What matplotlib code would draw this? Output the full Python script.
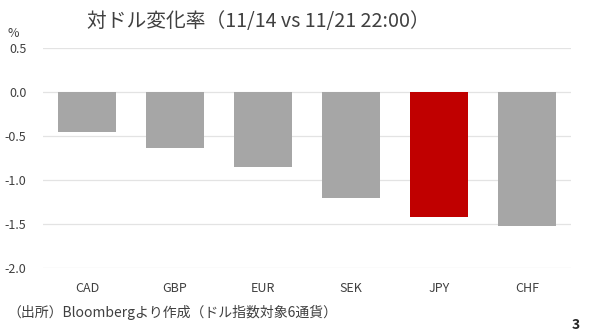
import matplotlib
matplotlib.use("Agg")
import matplotlib.pyplot as plt

plt.rcParams['font.family'] = ['Noto Sans CJK JP', 'DejaVu Sans']

categories = ["CAD", "GBP", "EUR", "SEK", "JPY", "CHF"]
values = [-0.45, -0.64, -0.85, -1.20, -1.42, -1.52]
colors = ["#a6a6a6", "#a6a6a6", "#a6a6a6", "#a6a6a6", "#c00000", "#a6a6a6"]
yticks = [0.5, 0.0, -0.5, -1.0, -1.5, -2.0]
ytick_labels = ["0.5", "0.0", "-0.5", "-1.0", "-1.5", "-2.0"]

fig = plt.figure(figsize=(5.91, 3.35), dpi=100)
ax = fig.add_axes([0.0728, 0.2, 0.8934, 0.657])

x = range(len(categories))
ax.bar(x, values, width=0.66, color=colors, zorder=3)
ax.set_xlim(-0.5, len(categories) - 0.5)
ax.set_ylim(-2.0, 0.5)
ax.set_yticks(yticks)
ax.set_yticklabels(ytick_labels, fontsize=9, color="#404040")
ax.set_xticks(list(x))
ax.set_xticklabels(categories, fontsize=9, color="#404040")
ax.tick_params(axis='both', length=0)
ax.tick_params(axis='x', pad=10)
ax.tick_params(axis='y', pad=12)
ax.grid(axis='y', color="#e3e3e3", linewidth=0.9, zorder=0)
for s in ax.spines.values():
    s.set_visible(False)

fig.text(0.438, 0.935, "対ドル変化率（11/14 vs 11/21 22:00）", fontsize=14.2,
         ha='center', va='center', color="#404040")
fig.text(0.012, 0.9, "%", fontsize=9, ha='left', va='center', color="#404040")
fig.text(0.012, 0.068, "（出所）Bloombergより作成（ドル指数対象6通貨）", fontsize=10,
         ha='left', va='center', color="#404040")
fig.text(0.975, 0.03, "3", fontsize=10, fontweight='bold', ha='center', va='center',
         color="#262626")

fig.savefig("out.png", dpi=100)
